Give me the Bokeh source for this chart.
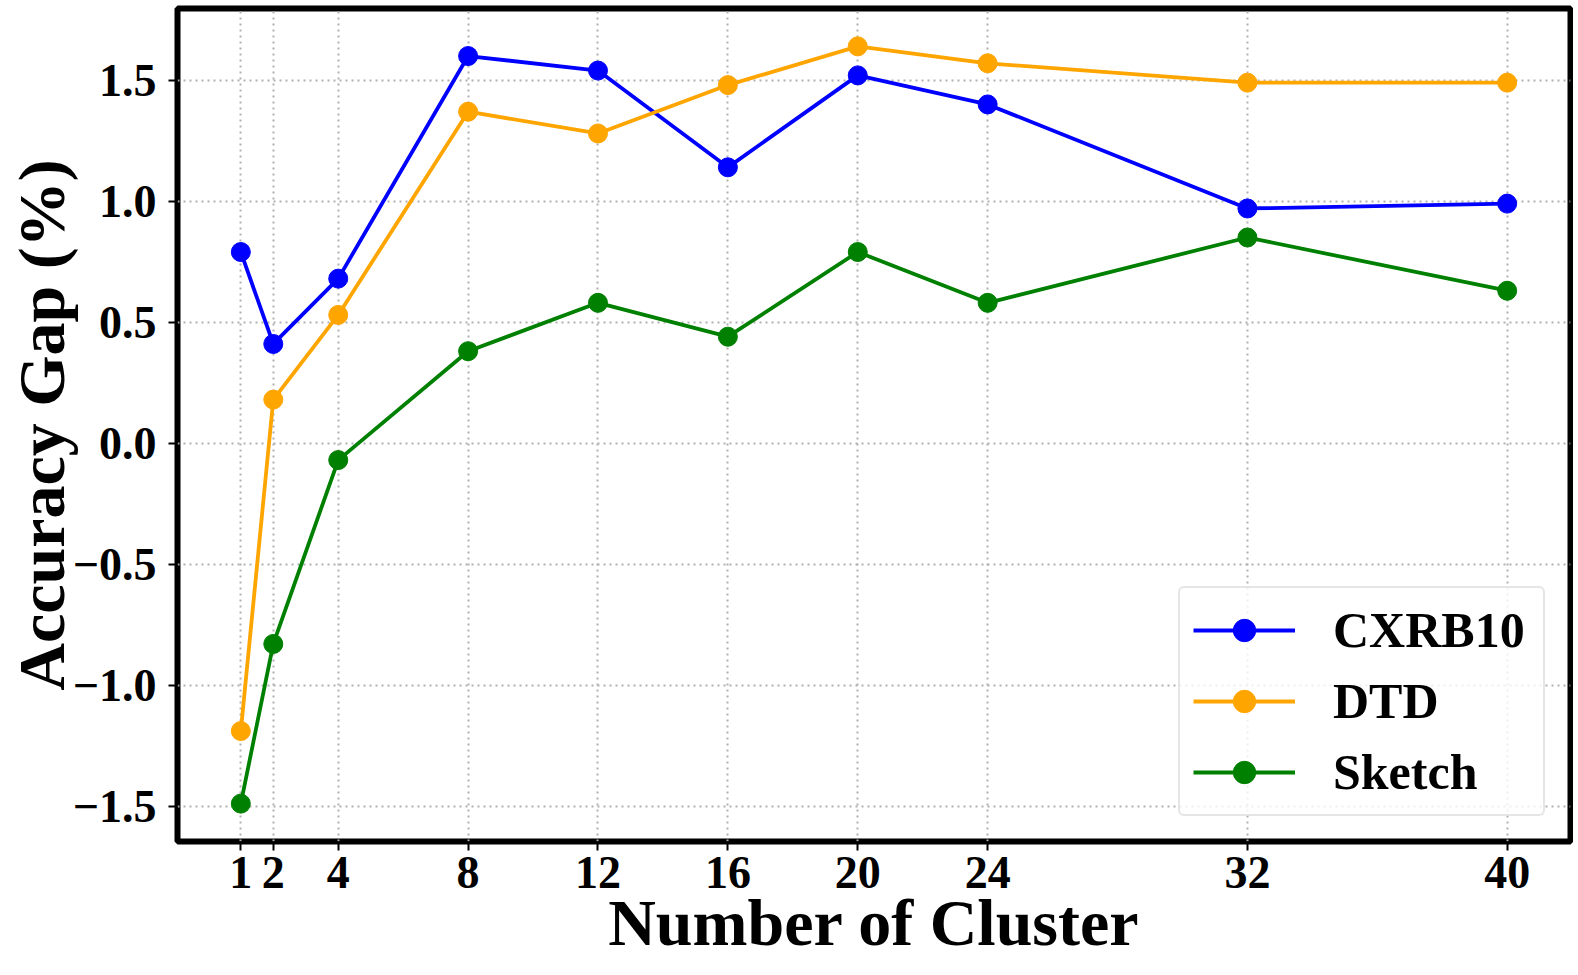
from bokeh.plotting import figure
from bokeh.models import Range1d, FixedTicker, Legend, LegendItem
from bokeh.embed import file_html
from bokeh.resources import INLINE

clusters = [1, 2, 4, 8, 12, 16, 20, 24, 32, 40]
cxrb10 = [0.79, 0.41, 0.68, 1.60, 1.54, 1.14, 1.52, 1.40, 0.97, 0.99]
dtd = [-1.19, 0.18, 0.53, 1.37, 1.28, 1.48, 1.64, 1.57, 1.49, 1.49]
sketch = [-1.49, -0.83, -0.07, 0.38, 0.58, 0.44, 0.79, 0.58, 0.85, 0.63]
y_ticks = [-1.5, -1.0, -0.5, 0.0, 0.5, 1.0, 1.5]
series = [("CXRB10", cxrb10, "#0000ff"), ("DTD", dtd, "#ffa500"), ("Sketch", sketch, "#008000")]

FONT = "Liberation Serif"

p = figure(width=1573, height=975, output_backend="svg", toolbar_location=None,
           x_range=Range1d(-0.95, 41.95), y_range=Range1d(-1.6465, 1.7965),
           min_border_left=177, min_border_right=3, min_border_top=8, min_border_bottom=134)
p.background_fill_color = "white"
p.border_fill_color = "white"
p.outline_line_color = "black"
p.outline_line_width = 6

p.xaxis.ticker = FixedTicker(ticks=clusters)
p.yaxis.ticker = FixedTicker(ticks=y_ticks)
p.yaxis.major_label_overrides = {t: ("\u2212" + f"{abs(t):.1f}" if t < 0 else f"{t:.1f}") for t in y_ticks}

for ax in (p.xaxis[0], p.yaxis[0]):
    ax.axis_line_color = None
    ax.major_tick_line_color = "black"
    ax.major_tick_line_width = 2
    ax.major_tick_out = 9
    ax.major_tick_in = 0
    ax.minor_tick_line_color = None
    ax.major_label_text_font = FONT
    ax.major_label_text_font_style = "bold"
    ax.major_label_text_font_size = "46px"
    ax.major_label_text_color = "black"
    ax.axis_label_text_font = FONT
    ax.axis_label_text_font_style = "bold"
    ax.axis_label_text_font_size = "66px"
    ax.axis_label_text_color = "black"

p.xaxis.axis_label = "Number of Cluster"
p.yaxis.axis_label = "Accuracy Gap (%)"
p.xaxis.major_label_standoff = 6
p.yaxis.major_label_standoff = 12
p.xaxis.axis_label_standoff = -5
p.yaxis.axis_label_standoff = -8

for g in (p.xgrid[0], p.ygrid[0]):
    g.grid_line_color = "#b0b0b0"
    g.grid_line_width = 2
    g.grid_line_dash = "2 4"

items = []
for name, vals, color in series:
    l = p.line(clusters, vals, line_color=color, line_width=3.8)
    s = p.scatter(clusters, vals, size=19, fill_color=color, line_color=color)
    items.append(LegendItem(label=name, renderers=[l, s]))

legend = Legend(items=items, location="bottom_right")
legend.label_text_font = FONT
legend.label_text_font_style = "bold"
legend.label_text_font_size = "50px"
legend.label_text_color = "black"
legend.glyph_width = 102
legend.glyph_height = 56
legend.label_standoff = 38
legend.label_height = 56
legend.label_width = 197
legend.spacing = 13
legend.padding = 13
legend.margin = 25
legend.border_line_color = "#cccccc"
legend.border_line_width = 2
legend.border_radius = 6
legend.background_fill_color = "white"
legend.background_fill_alpha = 0.8
p.add_layout(legend, "center")

open("out.html", "w").write(file_html(p, INLINE))
